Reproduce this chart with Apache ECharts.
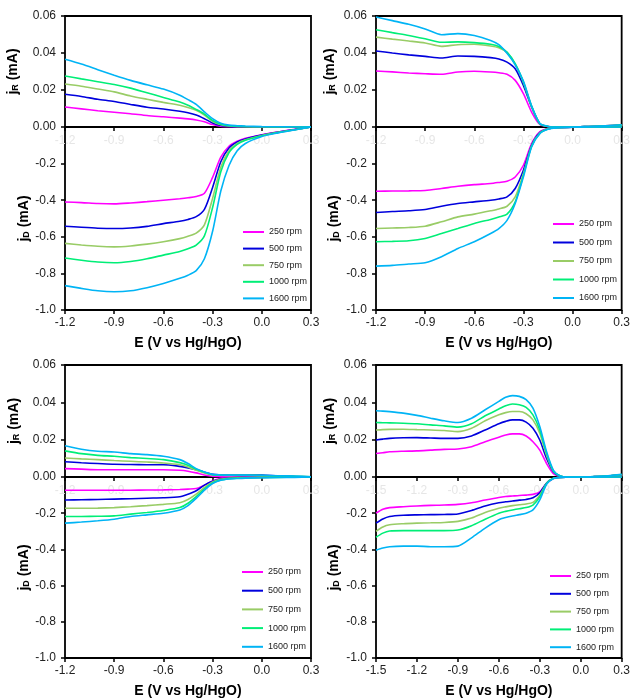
<!DOCTYPE html>
<html><head><meta charset="utf-8">
<script src="https://cdn.jsdelivr.net/npm/echarts@6/dist/echarts.min.js"></script>
<style>html,body{margin:0;padding:0;background:#fff}#c{width:633px;height:699px}</style>
</head><body><div id="c"></div>
<script>
const rpmNames = ['250 rpm','500 rpm','750 rpm','1000 rpm','1600 rpm'];
const rpmColors = ['#ff00ff','#0000dd','#99cc66','#00ee77','#00b4f5'];

const xA = [-1.2,-1.1,-1.0,-0.9,-0.8,-0.7,-0.6,-0.5,-0.45,-0.4,-0.35,-0.3,-0.25,-0.2,-0.15,-0.1,0,0.1,0.2,0.3];
const x4 = [-1.5,-1.45,-1.4,-1.3,-1.2,-1.1,-1.0,-0.9,-0.8,-0.7,-0.6,-0.55,-0.5,-0.45,-0.4,-0.35,-0.3,-0.25,-0.2,-0.15,-0.1,0,0.1,0.2,0.3];

const xTicksA = [-1.2,-0.9,-0.6,-0.3,0.0,0.3];
const xTicks4 = [-1.5,-1.2,-0.9,-0.6,-0.3,0.0,0.3];
const ringTicks = [0,0.02,0.04,0.06];
const diskTicks = [-1.0,-0.8,-0.6,-0.4,-0.2,0];

// Panel 1 (top-left)
const p1Ring = [
 [0.0108,0.0098,0.0088,0.008,0.0072,0.0062,0.0055,0.0048,0.0044,0.0038,0.0028,0.0013,0.0004,0.0001,0,0,0,0,0,0],
 [0.0177,0.0165,0.015,0.0138,0.0122,0.0107,0.0097,0.0085,0.0077,0.0065,0.0045,0.0022,0.0008,0.0003,0.0001,0,0,0,0,0],
 [0.0232,0.022,0.0205,0.019,0.0168,0.015,0.0133,0.0118,0.0106,0.009,0.0065,0.003,0.0012,0.0005,0.0002,0.0001,0,0,0,0],
 [0.0276,0.026,0.0245,0.023,0.021,0.0185,0.016,0.0135,0.0118,0.0095,0.007,0.0035,0.0015,0.0007,0.0004,0.0002,0.0001,0,0,0],
 [0.0366,0.034,0.031,0.028,0.0252,0.0228,0.0205,0.0172,0.0148,0.0122,0.0082,0.0045,0.002,0.001,0.0007,0.0005,0.0002,0.0001,0,0]
];
const p1Disk = [
 [-0.41,-0.413,-0.418,-0.42,-0.415,-0.408,-0.4,-0.392,-0.387,-0.38,-0.362,-0.275,-0.165,-0.105,-0.078,-0.062,-0.042,-0.027,-0.013,0],
 [-0.542,-0.548,-0.553,-0.555,-0.552,-0.543,-0.528,-0.515,-0.505,-0.49,-0.45,-0.33,-0.19,-0.115,-0.082,-0.065,-0.044,-0.028,-0.014,0],
 [-0.636,-0.645,-0.652,-0.655,-0.65,-0.64,-0.627,-0.61,-0.597,-0.58,-0.535,-0.39,-0.22,-0.13,-0.09,-0.07,-0.046,-0.029,-0.015,0],
 [-0.716,-0.728,-0.738,-0.742,-0.735,-0.72,-0.7,-0.68,-0.665,-0.645,-0.595,-0.44,-0.245,-0.14,-0.095,-0.073,-0.048,-0.03,-0.015,0],
 [-0.867,-0.882,-0.895,-0.9,-0.895,-0.878,-0.855,-0.827,-0.81,-0.785,-0.72,-0.57,-0.35,-0.21,-0.13,-0.09,-0.052,-0.032,-0.016,0]
];
// Panel 2 (top-right)
const p2Ring = [
 [0.0303,0.0298,0.0292,0.0288,0.0285,0.0297,0.0301,0.0297,0.0293,0.0285,0.0252,0.018,0.0081,0.0014,0.0002,0,0,0.0003,0.0006,0.001],
 [0.0411,0.04,0.039,0.0382,0.0373,0.0384,0.0382,0.0375,0.0368,0.0351,0.0315,0.0225,0.0108,0.0018,0.0003,0,0,0.0003,0.0006,0.001],
 [0.0486,0.0475,0.0465,0.0454,0.0436,0.0445,0.0447,0.0438,0.0428,0.0402,0.0339,0.0241,0.0112,0.0018,0.0003,0,0,0.0003,0.0006,0.001],
 [0.0526,0.051,0.0495,0.0477,0.0458,0.046,0.0456,0.0447,0.0435,0.0405,0.0342,0.0243,0.0112,0.0018,0.0003,0,0,0.0003,0.0006,0.001],
 [0.0595,0.0575,0.0555,0.053,0.0499,0.0505,0.0495,0.0468,0.0445,0.0398,0.0336,0.0248,0.0115,0.002,0.0003,0,0,0.0003,0.0006,0.0012]
];
const p2Disk = [
 [-0.351,-0.35,-0.349,-0.347,-0.336,-0.324,-0.315,-0.309,-0.303,-0.296,-0.273,-0.209,-0.091,-0.027,-0.009,-0.004,-0.001,0,0,0],
 [-0.467,-0.462,-0.458,-0.451,-0.433,-0.418,-0.409,-0.4,-0.393,-0.382,-0.336,-0.236,-0.1,-0.031,-0.01,-0.004,-0.001,0,0,0],
 [-0.555,-0.552,-0.549,-0.542,-0.518,-0.491,-0.476,-0.458,-0.448,-0.433,-0.382,-0.255,-0.104,-0.033,-0.01,-0.004,-0.001,0,0,0],
 [-0.627,-0.625,-0.622,-0.609,-0.582,-0.555,-0.527,-0.505,-0.492,-0.476,-0.409,-0.264,-0.105,-0.035,-0.011,-0.004,-0.001,0,0,0],
 [-0.76,-0.756,-0.749,-0.742,-0.709,-0.664,-0.627,-0.582,-0.555,-0.51,-0.418,-0.273,-0.109,-0.036,-0.012,-0.005,-0.001,0,0,0]
];
// Panel 3 (bottom-left)
const p3Ring = [
 [0.0045,0.0042,0.0039,0.0039,0.0039,0.0039,0.0039,0.0036,0.0031,0.0022,0.0011,0.0004,0.0002,0.0001,0,0,0,0,0,0],
 [0.0082,0.0076,0.0072,0.0068,0.0067,0.0066,0.0066,0.0057,0.0049,0.0039,0.0025,0.0014,0.0012,0.0011,0.0011,0.0011,0.001,0.0005,0.0002,0],
 [0.0102,0.0097,0.0093,0.0088,0.0084,0.008,0.0075,0.0066,0.0054,0.0036,0.0022,0.0011,0.0009,0.0008,0.0008,0.0008,0.0007,0.0005,0.0003,0.0001],
 [0.014,0.0125,0.0116,0.0111,0.0104,0.0099,0.0093,0.0077,0.0063,0.0041,0.0025,0.0012,0.001,0.0009,0.0009,0.0009,0.0008,0.0006,0.0004,0.0001],
 [0.0167,0.0149,0.0138,0.0134,0.0125,0.012,0.0111,0.0093,0.0072,0.0045,0.0027,0.0014,0.0011,0.001,0.001,0.001,0.0009,0.0007,0.0005,0.0001]
];
const p3Disk = [
 [-0.073,-0.073,-0.073,-0.073,-0.073,-0.072,-0.071,-0.069,-0.067,-0.064,-0.045,-0.022,-0.007,-0.004,-0.003,-0.002,-0.001,0,0,0],
 [-0.127,-0.126,-0.124,-0.122,-0.12,-0.117,-0.115,-0.109,-0.095,-0.076,-0.045,-0.024,-0.011,-0.006,-0.004,-0.003,-0.002,-0.001,0,0],
 [-0.173,-0.173,-0.172,-0.169,-0.164,-0.158,-0.151,-0.142,-0.124,-0.095,-0.058,-0.027,-0.013,-0.007,-0.005,-0.004,-0.002,-0.001,0,0],
 [-0.218,-0.218,-0.217,-0.215,-0.205,-0.196,-0.185,-0.169,-0.145,-0.109,-0.067,-0.033,-0.016,-0.009,-0.006,-0.005,-0.003,-0.002,-0.001,0],
 [-0.255,-0.249,-0.242,-0.233,-0.218,-0.209,-0.2,-0.182,-0.158,-0.118,-0.073,-0.036,-0.018,-0.011,-0.008,-0.006,-0.004,-0.003,-0.002,0]
];
// Panel 4 (bottom-right)
const p4Ring = [
 [0.0126,0.013,0.0135,0.0138,0.014,0.0144,0.0148,0.015,0.0162,0.0189,0.0213,0.0225,0.0231,0.0231,0.022,0.0189,0.0144,0.0072,0.0018,0.0003,0,0,0.0002,0.0005,0.001],
 [0.0198,0.0203,0.0207,0.021,0.0211,0.0209,0.0207,0.0207,0.022,0.0252,0.0285,0.0298,0.0306,0.0306,0.0294,0.0261,0.0198,0.0099,0.0027,0.0004,0,0,0.0002,0.0005,0.001],
 [0.0252,0.0254,0.0255,0.0256,0.0254,0.0252,0.0249,0.0243,0.0261,0.0301,0.0333,0.0345,0.0351,0.0351,0.0339,0.0306,0.0234,0.0117,0.003,0.0005,0,0,0.0002,0.0005,0.0012],
 [0.0292,0.0291,0.029,0.0288,0.0285,0.0279,0.0274,0.0267,0.0285,0.0328,0.0364,0.0382,0.0391,0.0387,0.0373,0.0333,0.0252,0.0126,0.0032,0.0005,0,0,0.0002,0.0006,0.0013],
 [0.0355,0.0353,0.035,0.0342,0.033,0.0315,0.0301,0.0292,0.0315,0.036,0.0405,0.0427,0.0436,0.0432,0.0414,0.0369,0.027,0.0135,0.0036,0.0005,0,0,0.0002,0.0006,0.0014]
];
const p4Disk = [
 [-0.2,-0.178,-0.169,-0.164,-0.16,-0.157,-0.155,-0.151,-0.142,-0.127,-0.113,-0.108,-0.105,-0.102,-0.1,-0.096,-0.082,-0.036,-0.009,-0.002,-0.001,0,0,0,0],
 [-0.255,-0.232,-0.218,-0.211,-0.209,-0.208,-0.207,-0.204,-0.185,-0.16,-0.142,-0.137,-0.133,-0.128,-0.124,-0.115,-0.087,-0.033,-0.007,-0.002,-0.001,0,0,0,0],
 [-0.3,-0.276,-0.264,-0.258,-0.255,-0.253,-0.251,-0.245,-0.227,-0.196,-0.173,-0.165,-0.158,-0.153,-0.149,-0.14,-0.1,-0.036,-0.007,-0.002,-0.001,0,0,0,0],
 [-0.333,-0.31,-0.298,-0.296,-0.296,-0.296,-0.296,-0.293,-0.269,-0.233,-0.2,-0.19,-0.182,-0.175,-0.169,-0.155,-0.109,-0.036,-0.007,-0.002,-0.001,0,0,0,0],
 [-0.404,-0.392,-0.385,-0.382,-0.382,-0.385,-0.385,-0.382,-0.336,-0.282,-0.236,-0.224,-0.215,-0.208,-0.2,-0.182,-0.127,-0.04,-0.009,-0.002,-0.001,0,0,0,0]
];

const panels = [
  {xs:xA, ticks:xTicksA, ring:p1Ring, disk:p1Disk, left:65, ringTop:16, ringH:111, diskH:183, gapR:44, gapD:32, legLeft:243, legTop:226, legGap:4.6},
  {xs:xA, ticks:xTicksA, ring:p2Ring, disk:p2Disk, left:376, ringTop:16, ringH:111, diskH:183, gapR:38, gapD:34, legLeft:553, legTop:218, legGap:6.5},
  {xs:xA, ticks:xTicksA, ring:p3Ring, disk:p3Disk, left:65, ringTop:365, ringH:112, diskH:183, gapR:43, gapD:32, legLeft:242, legTop:566, legGap:6.7},
  {xs:x4, ticks:xTicks4, ring:p4Ring, disk:p4Disk, left:376, ringTop:365, ringH:112, diskH:183, gapR:38, gapD:34, legLeft:550, legTop:570, legGap:5.8}
];

const FONT = '"Liberation Sans", Arial, sans-serif';
const grid = [], xAxis = [], yAxis = [], series = [], legend = [];
const tickStyle = {show:true, inside:false, length:4, lineStyle:{color:'#000', width:1.5}};
const noLine = {show:false, onZero:false};
const richName = (sub) => ({
  name: '{a|j}{b|' + sub + '}{c| (mA)}',
  nameTextStyle: {rich: {
    a:{fontSize:14, fontWeight:'bold', color:'#000', fontFamily:FONT, lineHeight:16},
    b:{fontSize:9, fontWeight:'bold', color:'#000', fontFamily:FONT, lineHeight:16, padding:[6,0,0,0]},
    c:{fontSize:14, fontWeight:'bold', color:'#000', fontFamily:FONT, lineHeight:16}
  }}
});

panels.forEach((p, k) => {
  const gi = grid.length;
  grid.push({left:p.left, top:p.ringTop, width:246, height:p.ringH, show:true, borderColor:'#000', borderWidth:1.8, containLabel:false});
  grid.push({left:p.left, top:p.ringTop + p.ringH, width:246, height:p.diskH, show:true, borderColor:'#000', borderWidth:1.8, containLabel:false});
  const xmin = p.ticks[0], xmax = p.ticks[p.ticks.length-1];
  xAxis.push({type:'value', gridIndex:gi, position:'bottom', min:xmin, max:xmax, interval:0.3, splitLine:{show:false},
    axisLine:noLine, axisTick:tickStyle,
    axisLabel:{color:'#e6e6e6', fontSize:12, fontFamily:FONT, margin:8, formatter:v=>v.toFixed(1)}});
  xAxis.push({type:'value', gridIndex:gi+1, position:'bottom', min:xmin, max:xmax, interval:0.3, splitLine:{show:false},
    axisLine:noLine, axisTick:tickStyle,
    axisLabel:{color:'#222', fontSize:12, fontFamily:FONT, margin:7, formatter:v=>v.toFixed(1)},
    name:'E (V vs Hg/HgO)', nameLocation:'middle', nameGap:26,
    nameTextStyle:{fontSize:14, fontWeight:'bold', color:'#000', fontFamily:FONT}});
  yAxis.push(Object.assign({type:'value', gridIndex:gi, position:'left', min:ringTicks[0], max:ringTicks[ringTicks.length-1], interval:0.02,
    splitLine:{show:false}, axisLine:noLine, axisTick:tickStyle,
    axisLabel:{color:'#222', fontSize:12, fontFamily:FONT, margin:9, formatter:v=>v.toFixed(2)},
    nameLocation:'middle', nameRotate:90, nameGap:p.gapR}, richName('R')));
  yAxis.push(Object.assign({type:'value', gridIndex:gi+1, position:'left', min:diskTicks[0], max:diskTicks[diskTicks.length-1], interval:0.2,
    splitLine:{show:false}, axisLine:noLine, axisTick:tickStyle,
    axisLabel:{color:'#222', fontSize:12, fontFamily:FONT, margin:9, formatter:v=> Math.abs(v) < 1e-9 ? '' : v.toFixed(1)},
    nameLocation:'middle', nameRotate:90, nameGap:p.gapD}, richName('D')));
  rpmNames.forEach((nm, i) => {
    const common = {name:nm, type:'line', showSymbol:false, smooth:0.25, animation:false,
      color:rpmColors[i], itemStyle:{color:rpmColors[i]}, lineStyle:{color:rpmColors[i], width:1.6}};
    series.push(Object.assign({}, common, {xAxisIndex:gi, yAxisIndex:gi, data:p.xs.map((x,j)=>[x,p.ring[i][j]])}));
    series.push(Object.assign({}, common, {xAxisIndex:gi+1, yAxisIndex:gi+1, data:p.xs.map((x,j)=>[x,p.disk[i][j]])}));
  });
  legend.push({data:rpmNames, orient:'vertical', left:p.legLeft, top:p.legTop, itemWidth:21, itemHeight:2,
    icon:'rect', itemGap:p.legGap, selectedMode:false, padding:0,
    textStyle:{fontSize:9, color:'#222', fontFamily:FONT, lineHeight:12}});
});

const chart = echarts.init(document.getElementById('c'), null, {renderer:'canvas'});
chart.setOption({animation:false, backgroundColor:'#fff', textStyle:{fontFamily:FONT},
  grid, xAxis, yAxis, series, legend});
</script></body></html>
